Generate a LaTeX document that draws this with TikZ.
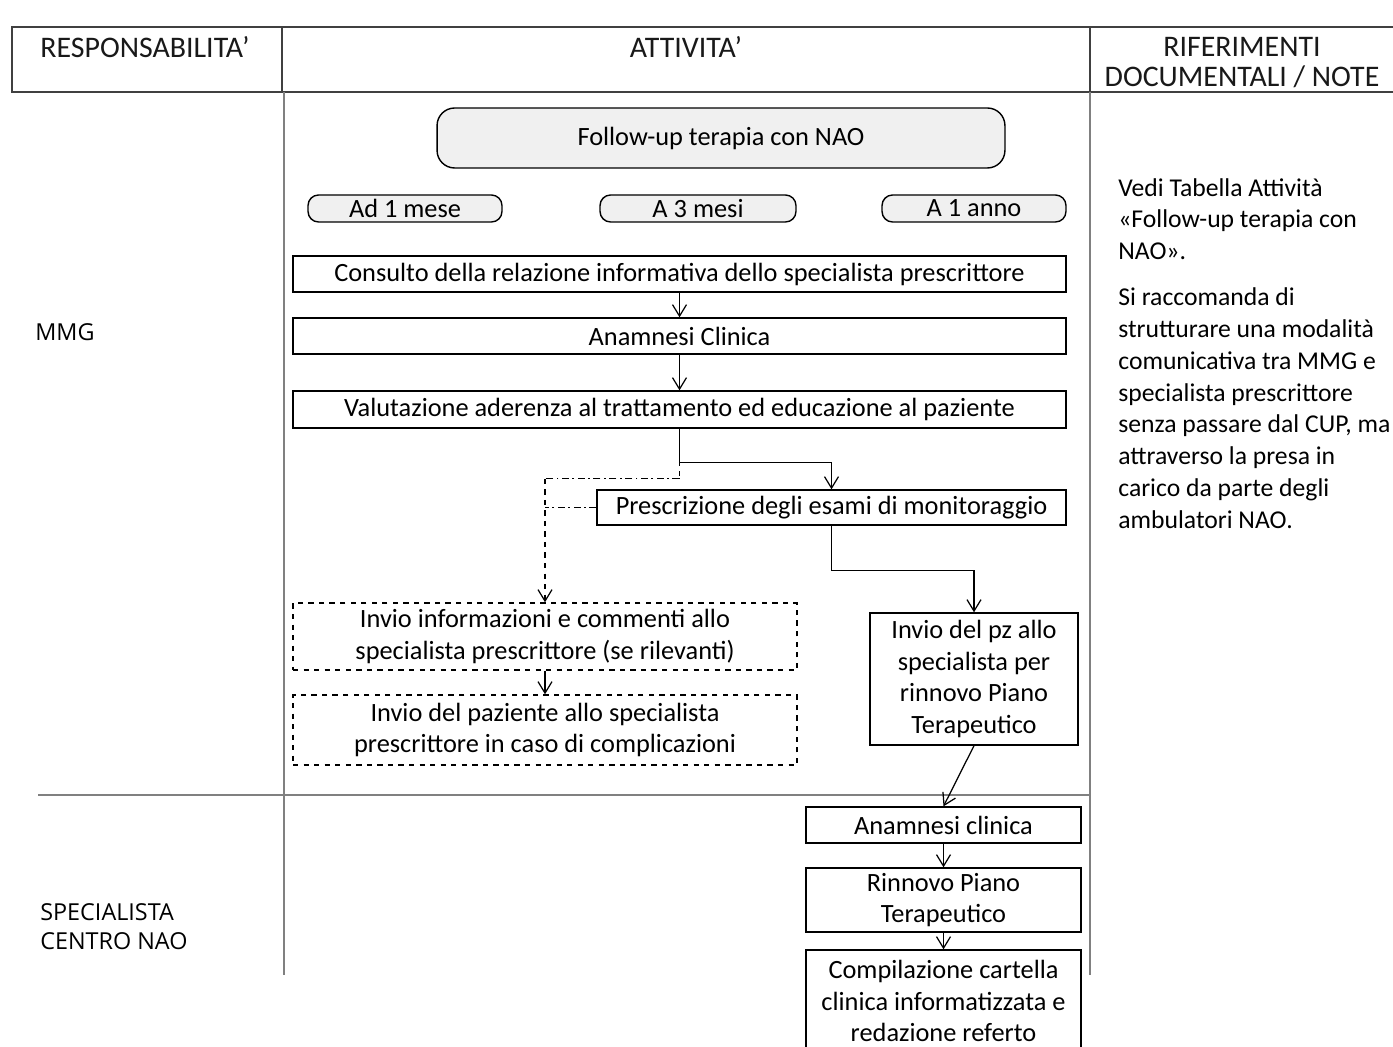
\documentclass[tikz,border=0pt]{standalone}
\usepackage{fontspec}
\setmainfont{Carlito}
\newfontfamily\lanefont{Open Sans}
\usetikzlibrary{arrows.meta}
\tikzset{
  flowbox/.style={draw=black, line width=0.8pt, align=center, font=\fontsize{15}{18.1}\selectfont},
  dashbox/.style={flowbox, dashed},
  roundbox/.style={flowbox, rounded corners=6pt, fill=black!6},
  arr/.style={-{Straight Barb[length=2.3mm,width=2.8mm]}, line width=0.7pt},
  dashdot/.style={line width=0.7pt, dash pattern=on 4pt off 2pt on 1pt off 2pt},
  grid/.style={draw=black!50, line width=0.8pt},
  frame/.style={draw=black!75, line width=1.6pt},
  headtext/.style={font=\fontsize{17}{18}\selectfont, text=black!90}
}
\begin{document}
\begin{tikzpicture}[x=0.02cm, y=-0.02cm]
\tikzstyle{every node}+=[inner sep=0pt]
\useasboundingbox (0,0) rectangle (1393,1047);
\draw [frame] (1393,27) -- (12,27) -- (12,92) -- (1393,92);
\draw [black!75, line width=0.9pt] (282,27) -- (282,92);
\draw [black!75, line width=0.9pt] (1090,27) -- (1090,92);
\draw [grid] (284,92) -- (284,975);
\draw [grid] (1090,92) -- (1090,975);
\draw [grid] (38,795) -- (1090,795);
\node [headtext] (hresp) at (145,47) {RESPONSABILITA’};
\node [headtext] (hatt) at (686,47) {ATTIVITA’};
\node [headtext] (hrif) at (1242,47) {RIFERIMENTI};
\node [headtext] (hdoc) at (1242,77) {DOCUMENTALI / NOTE};
\node [anchor=west, font=\lanefont\fontsize{13.3}{16}\selectfont] (mmg) at (35,332) {MMG};
\node [anchor=west, align=left, font=\lanefont\fontsize{13.3}{16.5}\selectfont] (spec) at (40,927) {SPECIALISTA\\CENTRO NAO};
\node [anchor=north west, align=left, font=\fontsize{14.6}{18.1}\selectfont] (note) at (1118,178)
  {Vedi Tabella Attività\\«Follow-up terapia con\\NAO».\\[8pt]
   Si raccomanda di\\strutturare una modalità\\comunicativa tra MMG e\\specialista prescrittore\\senza passare dal CUP, ma\\attraverso la presa in\\carico da parte degli\\ambulatori NAO.};
\node [roundbox, rounded corners=10pt, minimum width=11.36cm, minimum height=1.2cm] (follow) at (721,138) {Follow-up terapia con NAO};
\node [roundbox, minimum width=3.88cm, minimum height=0.54cm] (mese) at (405,208.5) {Ad 1 mese};
\node [roundbox, minimum width=3.92cm, minimum height=0.54cm] (mesi) at (698,208.5) {A 3 mesi};
\node [roundbox, minimum width=3.68cm, minimum height=0.54cm] (anno) at (974,208.5) {A 1 anno};
\node [flowbox, minimum width=15.46cm, minimum height=0.72cm] (consulto) at (679.5,274) {Consulto della relazione informativa dello specialista prescrittore};
\node [flowbox, minimum width=15.46cm, minimum height=0.72cm] (anamnesi) at (679.5,336) {Anamnesi Clinica};
\node [flowbox, minimum width=15.46cm, minimum height=0.74cm] (valuta) at (679.5,409.5) {Valutazione aderenza al trattamento ed educazione al paziente};
\node [flowbox, minimum width=9.38cm, minimum height=0.7cm] (prescr) at (831.5,507.5) {Prescrizione degli esami di monitoraggio};
\node [dashbox, minimum width=10.08cm, minimum height=1.34cm] (info) at (545,636.5) {Invio informazioni e commenti allo\\specialista prescrittore (se rilevanti)};
\node [dashbox, minimum width=10.08cm, minimum height=1.4cm] (paz) at (545,730) {Invio del paziente allo specialista\\prescrittore in caso di complicazioni};
\node [flowbox, minimum width=4.16cm, minimum height=2.64cm] (invpz) at (974,679) {Invio del pz allo\\specialista per\\rinnovo Piano\\Terapeutico};
\node [flowbox, minimum width=5.5cm, minimum height=0.72cm] (anam) at (943.5,825) {Anamnesi clinica};
\node [flowbox, minimum width=5.5cm, minimum height=1.28cm] (rinn) at (943.5,900) {Rinnovo Piano\\Terapeutico};
\node [flowbox, minimum width=5.5cm, minimum height=2.04cm, text depth=0pt] (comp) at (943.5,1001) {Compilazione cartella\\clinica informatizzata e\\redazione referto};
\draw [arr] (consulto) -- (anamnesi);
\draw [arr] (anamnesi) -- (valuta);
\draw [arr] (valuta.south) -- ++(0,34) -| (prescr.north);
\draw [line width=0.7pt, dashed] (valuta.south) -- ++(0,50) coordinate (vdown);
\draw [dashdot] (vdown) -- (vdown -| info.north) coordinate (vleft);
\draw [arr, dashed] (vleft) -- (info.north);
\draw [dashdot] (prescr.west) -- (prescr.west -| info.north);
\draw [arr] (prescr.south) -- ++(0,45) -| (invpz.north);
\draw [arr] (info) -- (paz);
\draw [arr] (invpz.south) -- (anam.north);
\draw [arr] (anam) -- (rinn);
\draw [arr] (rinn) -- (comp);
\end{tikzpicture}
\end{document}
